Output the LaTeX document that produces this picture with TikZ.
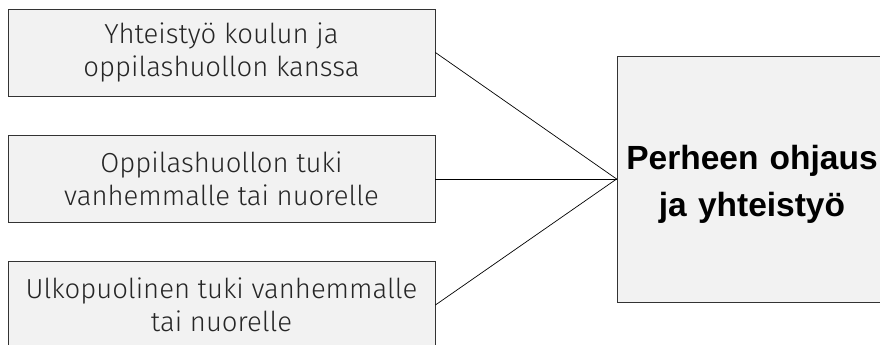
\documentclass[tikz,border=0pt]{standalone}
\usepackage{fontspec}
\newfontfamily\leftfnt{Fira Sans Light}
\newfontfamily\boldfnt{Liberation Sans}
\begin{document}
\begin{tikzpicture}[x=1pt,y=-1pt,
  sbox/.style={draw=black!80, fill=black!5, line width=0.8pt, minimum width=427pt, minimum height=87pt, inner sep=0pt, align=center, font=\leftfnt\fontsize{27.5}{33.5}\selectfont, text=black!85},
  bbox/.style={draw=black!80, fill=black!5, line width=0.8pt, minimum width=270pt, minimum height=246pt, inner sep=0pt},
  btext/.style={text width=300pt, align=center, inner sep=0pt, anchor=base, font=\boldfnt\bfseries\fontsize{33.5}{47}\selectfont},
  link/.style={draw=black, line width=0.7pt}]
\useasboundingbox (0,0) rectangle (880,345);
\clip (0,0) rectangle (880,345);
\node[sbox] (a) at (221.5,52.5) {Yhteistyö koulun ja\\oppilashuollon kanssa};
\node[sbox] (b) at (221.5,179) {Oppilashuollon tuki\\vanhemmalle tai nuorelle};
\node[sbox] (c) at (221.5,305) {Ulkopuolinen tuki vanhemmalle\\tai nuorelle};
\node[bbox] (d) at (752,179) {};
\node[btext] (dt) at (752,169) {Perheen ohjaus\\ja yhteistyö};
\draw[link] (a.east) -- (d.west);
\draw[link] (b.east) -- (d.west);
\draw[link] (c.east) -- (d.west);
\end{tikzpicture}
\end{document}
